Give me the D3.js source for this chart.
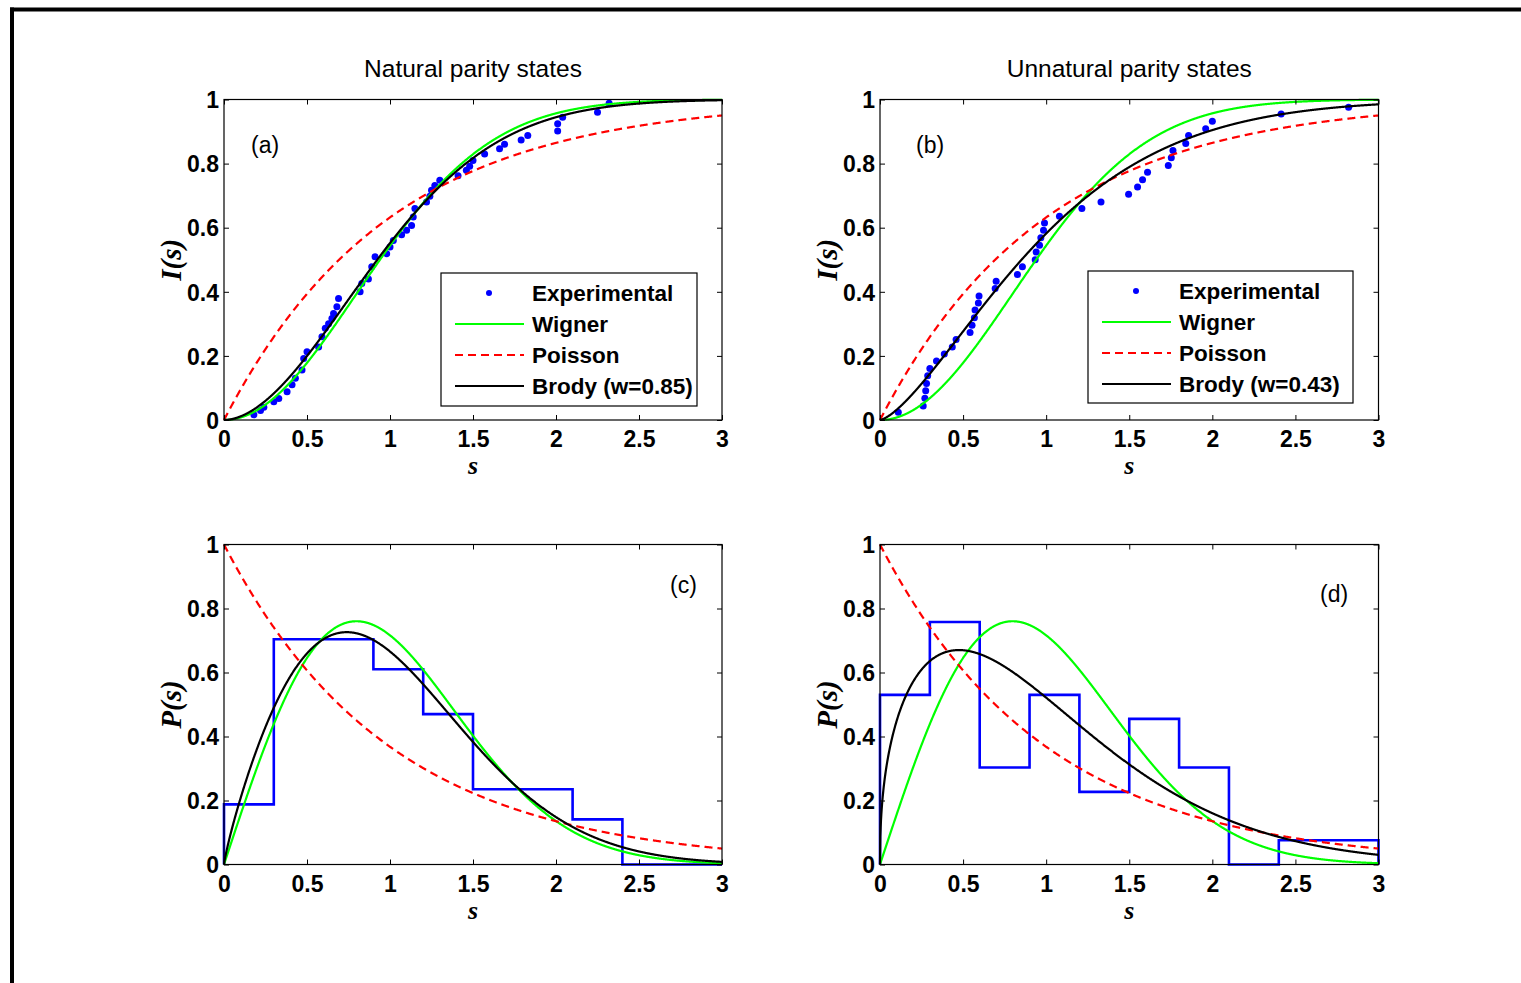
<!DOCTYPE html>
<html>
<head>
<meta charset="UTF-8">
<script src="https://d3js.org/d3.v7.min.js"></script>
<style>
  body { margin: 0; padding: 0; background: #fff; }
  svg { display: block; }
  .tick text { font-family: "Liberation Sans", Arial, sans-serif; font-weight: bold; font-size: 23px; fill: #000; }
  .tick line { stroke: #000; }
</style>
</head>
<body>
<svg id="chart" width="1521" height="983"></svg>
<script>
// ---- data ----
const sTicks = [0, 0.5, 1, 1.5, 2, 2.5, 3];
const yTicks = [0, 0.2, 0.4, 0.6, 0.8, 1];
const titles = ["Natural parity states", "Unnatural parity states"];
const panelTags = ["(a)", "(b)", "(c)", "(d)"];
const legendNames = ["Experimental", "Wigner", "Poisson"];
const brodyNatural = 0.85;
const brodyUnnatural = 0.43;

// cumulative experimental spacings, natural parity
const expNaturalS = [0.18, 0.22, 0.24, 0.30, 0.33, 0.38, 0.41, 0.43, 0.47, 0.48, 0.50,
  0.57, 0.59, 0.61, 0.63, 0.65, 0.66, 0.68, 0.69, 0.82, 0.83, 0.87, 0.89, 0.91,
  0.98, 1.00, 1.02, 1.07, 1.10, 1.13, 1.14, 1.15, 1.22, 1.24, 1.25, 1.27, 1.30,
  1.41, 1.46, 1.48, 1.50, 1.57, 1.66, 1.69, 1.79, 1.83, 2.01, 2.01, 2.04, 2.25, 2.32];
const expNaturalI = [0.016, 0.030, 0.040, 0.057, 0.067, 0.088, 0.110, 0.130, 0.156, 0.192, 0.213,
  0.228, 0.260, 0.286, 0.300, 0.317, 0.332, 0.353, 0.379, 0.400, 0.426, 0.440, 0.478, 0.509,
  0.519, 0.540, 0.560, 0.578, 0.592, 0.607, 0.633, 0.660, 0.680, 0.698, 0.717, 0.732, 0.748,
  0.762, 0.779, 0.792, 0.810, 0.830, 0.846, 0.860, 0.874, 0.888, 0.902, 0.924, 0.945, 0.960, 0.988];

// cumulative experimental spacings, unnatural parity
const expUnnaturalS = [0.11, 0.26, 0.27, 0.275, 0.28, 0.287, 0.30, 0.34, 0.387, 0.435, 0.458,
  0.542, 0.554, 0.568, 0.572, 0.592, 0.596, 0.693, 0.699, 0.827, 0.857, 0.934, 0.94, 0.96,
  0.968, 0.984, 0.99, 1.08, 1.215, 1.33, 1.496, 1.55, 1.58, 1.61, 1.735, 1.753, 1.763,
  1.84, 1.857, 1.96, 2.00, 2.414, 2.82];
const expUnnaturalI = [0.024, 0.044, 0.068, 0.091, 0.114, 0.138, 0.161, 0.184, 0.206, 0.228, 0.251,
  0.273, 0.296, 0.319, 0.343, 0.365, 0.387, 0.410, 0.433, 0.454, 0.478, 0.500, 0.524, 0.545,
  0.569, 0.592, 0.615, 0.636, 0.660, 0.680, 0.704, 0.727, 0.750, 0.773, 0.794, 0.818, 0.841,
  0.863, 0.888, 0.909, 0.932, 0.955, 0.976];

// histogram bins (width 0.3) and heights
const binEdges = [0, 0.3, 0.6, 0.9, 1.2, 1.5, 1.8, 2.1, 2.4, 2.7, 3.0];
const histNatural = [0.188, 0.704, 0.704, 0.610, 0.470, 0.235, 0.235, 0.141, 0, 0];
const histUnnatural = [0.530, 0.758, 0.303, 0.530, 0.227, 0.455, 0.303, 0, 0.076, 0.076];

// ---- theoretical distributions ----
function gamma(z) {
  const g = 7, c = [0.99999999999980993, 676.5203681218851, -1259.1392167224028,
    771.32342877765313, -176.61502916214059, 12.507343278686905,
    -0.13857109526572012, 9.9843695780195716e-6, 1.5056327351493116e-7];
  if (z < 0.5) return Math.PI / (Math.sin(Math.PI * z) * gamma(1 - z));
  z -= 1;
  let x = c[0];
  for (let i = 1; i < g + 2; i++) x += c[i] / (z + i);
  const t = z + g + 0.5;
  return Math.sqrt(2 * Math.PI) * Math.pow(t, z + 0.5) * Math.exp(-t) * x;
}
const wignerP = s => Math.PI / 2 * s * Math.exp(-Math.PI * s * s / 4);
const wignerI = s => 1 - Math.exp(-Math.PI * s * s / 4);
const poissonP = s => Math.exp(-s);
const poissonI = s => 1 - Math.exp(-s);
function brody(w) {
  const b = Math.pow(gamma((w + 2) / (w + 1)), w + 1);
  return {
    P: s => (w + 1) * b * Math.pow(s, w) * Math.exp(-b * Math.pow(s, w + 1)),
    I: s => 1 - Math.exp(-b * Math.pow(s, w + 1))
  };
}
const sGrid = d3.range(0, 3.0001, 0.002);

const svg = d3.select("#chart");
const GREEN = "#00ff00", RED = "#ff0000", BLUE = "#0000ff";

// figure frame (top and left edges)
svg.append("line").attr("x1", 10).attr("x2", 1521).attr("y1", 9.5).attr("y2", 9.5)
  .attr("stroke", "#000").attr("stroke-width", 4);
svg.append("line").attr("x1", 12).attr("x2", 12).attr("y1", 7.5).attr("y2", 983)
  .attr("stroke", "#000").attr("stroke-width", 4);

const cols = [{ x0: 224, x1: 722 }, { x0: 880, x1: 1378.5 }];
const rows = [{ y0: 99.5, y1: 420 }, { y0: 544.5, y1: 864.5 }];

function drawPanel(col, row, opts) {
  const x = d3.scaleLinear().domain([0, 3]).range([cols[col].x0, cols[col].x1]);
  const y = d3.scaleLinear().domain([0, 1]).range([rows[row].y1, rows[row].y0]);
  const g = svg.append("g");
  const X0 = x(0), X1 = x(3), Y0 = y(0), Y1 = y(1);

  g.append("rect").attr("x", X0).attr("y", Y1).attr("width", X1 - X0).attr("height", Y0 - Y1)
    .attr("fill", "#fff");

  const line = d3.line().x(d => x(d[0])).y(d => y(d[1]));

  if (opts.points) {
    g.selectAll("circle.pt").data(opts.points).join("circle")
      .attr("cx", d => x(d[0])).attr("cy", d => y(d[1])).attr("r", 3.5).attr("fill", BLUE);
  }
  if (opts.hist) {
    const pts = [[0, 0]];
    opts.hist.forEach((h, i) => { pts.push([binEdges[i], h]); pts.push([binEdges[i + 1], h]); });
    pts.push([3, 0]);
    g.append("path").attr("d", line(pts)).attr("fill", "none")
      .attr("stroke", BLUE).attr("stroke-width", 2.6);
  }
  g.append("path").attr("d", line(sGrid.map(s => [s, opts.wig(s)])))
    .attr("fill", "none").attr("stroke", GREEN).attr("stroke-width", 2.2);
  g.append("path").attr("d", line(sGrid.map(s => [s, opts.poi(s)])))
    .attr("fill", "none").attr("stroke", RED).attr("stroke-width", 2.2).attr("stroke-dasharray", "8,5");
  g.append("path").attr("d", line(sGrid.map(s => [s, opts.bro(s)])))
    .attr("fill", "none").attr("stroke", "#000").attr("stroke-width", 2.2);

  // axes with inward ticks on all sides
  g.append("g").attr("transform", `translate(0,${Y0})`)
    .call(d3.axisBottom(x).tickValues(sTicks).tickFormat(d => d).tickSize(-5).tickSizeOuter(0).tickPadding(11));
  const left = g.append("g").attr("transform", `translate(${X0},0)`)
    .call(d3.axisLeft(y).tickValues(yTicks).tickFormat(d => d).tickSize(-5).tickSizeOuter(0).tickPadding(5));
  g.append("g").attr("transform", `translate(0,${Y1})`)
    .call(d3.axisTop(x).tickValues(sTicks).tickFormat("").tickSize(-5).tickSizeOuter(0));
  g.append("g").attr("transform", `translate(${X1},0)`)
    .call(d3.axisRight(y).tickValues(yTicks).tickFormat("").tickSize(-5).tickSizeOuter(0));
  g.selectAll(".domain").remove();
  left.selectAll("text").attr("dy", "0.36em");

  g.append("rect").attr("x", X0).attr("y", Y1).attr("width", X1 - X0).attr("height", Y0 - Y1)
    .attr("fill", "none").attr("stroke", "#000").attr("stroke-width", 1.2);

  // axis labels
  g.append("text").attr("x", (X0 + X1) / 2).attr("y", Y0 + 54).attr("text-anchor", "middle")
    .style("font-family", "'Liberation Serif', 'Times New Roman', serif")
    .style("font-style", "italic").style("font-weight", "bold").style("font-size", "26px")
    .text("s");
  g.append("text").attr("transform", `translate(${X0 - 43},${(Y0 + Y1) / 2}) rotate(-90)`)
    .attr("text-anchor", "middle")
    .style("font-family", "'Liberation Serif', 'Times New Roman', serif")
    .style("font-style", "italic").style("font-weight", "bold").style("font-size", "29px")
    .text(opts.ylabel);

  // panel tag
  g.append("text").attr("x", opts.tag[1]).attr("y", opts.tag[2])
    .style("font-family", "'Liberation Sans', Arial, sans-serif").style("font-size", "23px")
    .text(opts.tag[0]);

  if (opts.title) {
    g.append("text").attr("x", (X0 + X1) / 2).attr("y", 77).attr("text-anchor", "middle")
      .style("font-family", "'Liberation Sans', Arial, sans-serif").style("font-size", "24.5px")
      .text(opts.title);
  }

  if (opts.legend) {
    const L = opts.legend;
    g.append("rect").attr("x", L.x).attr("y", L.y).attr("width", L.w).attr("height", L.h)
      .attr("fill", "#fff").attr("stroke", "#000").attr("stroke-width", 1.2);
    const names = legendNames.concat([`Brody (w=${L.w0.toFixed(2)})`]);
    const styles = [null, { c: GREEN }, { c: RED, dash: "8,5" }, { c: "#000" }];
    names.forEach((n, i) => {
      const cy = L.y + 20 + i * 31;
      if (i === 0) {
        g.append("circle").attr("cx", L.x + 48).attr("cy", cy).attr("r", 3).attr("fill", BLUE);
      } else {
        g.append("line").attr("x1", L.x + 14).attr("x2", L.x + 83).attr("y1", cy).attr("y2", cy)
          .attr("stroke", styles[i].c).attr("stroke-width", 2.2)
          .attr("stroke-dasharray", styles[i].dash || null);
      }
      g.append("text").attr("x", L.x + 91).attr("y", cy).attr("dy", "0.36em")
        .style("font-family", "'Liberation Sans', Arial, sans-serif").style("font-weight", "bold")
        .style("font-size", "22.5px").text(n);
    });
  }
}

const bN = brody(brodyNatural), bU = brody(brodyUnnatural);

drawPanel(0, 0, {
  points: expNaturalS.map((s, i) => [s, expNaturalI[i]]),
  wig: wignerI, poi: poissonI, bro: bN.I, ylabel: "I(s)",
  tag: [panelTags[0], 251, 153], title: titles[0],
  legend: { x: 441, y: 273, w: 256, h: 133, w0: brodyNatural }
});
drawPanel(1, 0, {
  points: expUnnaturalS.map((s, i) => [s, expUnnaturalI[i]]),
  wig: wignerI, poi: poissonI, bro: bU.I, ylabel: "I(s)",
  tag: [panelTags[1], 916, 153], title: titles[1],
  legend: { x: 1088, y: 271, w: 265, h: 132, w0: brodyUnnatural }
});
drawPanel(0, 1, {
  hist: histNatural, wig: wignerP, poi: poissonP, bro: bN.P, ylabel: "P(s)",
  tag: [panelTags[2], 670, 593]
});
drawPanel(1, 1, {
  hist: histUnnatural, wig: wignerP, poi: poissonP, bro: bU.P, ylabel: "P(s)",
  tag: [panelTags[3], 1320, 602]
});
</script>
</body>
</html>
